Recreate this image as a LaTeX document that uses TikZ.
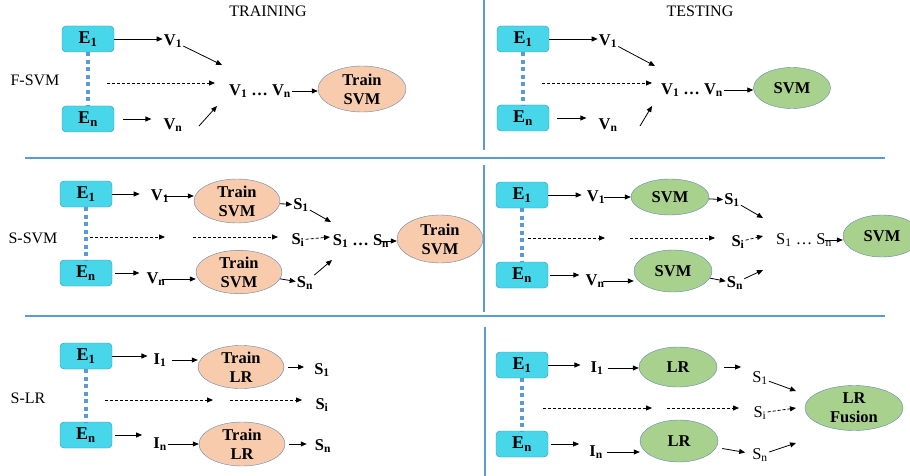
\documentclass[tikz,border=0pt]{standalone}
\usepackage{fontspec}
\setmainfont{Liberation Serif}
\usepackage{xcolor}
\usepackage{tikz}
\usetikzlibrary{shapes,arrows.meta,positioning,calc}

\definecolor{embcyan}{RGB}{72,214,234}
\definecolor{embline}{RGB}{49,146,176}
\definecolor{trainfill}{RGB}{248,203,173}
\definecolor{testfill}{RGB}{169,209,142}
\definecolor{ellline}{RGB}{98,135,175}
\definecolor{panelrule}{RGB}{91,155,213}

\begin{document}
\begin{tikzpicture}[x=1pt, y=-1pt,
    emb/.style={rectangle, draw=embline, fill=embcyan, rounded corners=4pt, minimum width=52pt, minimum height=26pt, inner sep=0pt, font=\fontsize{18}{20}\selectfont\bfseries},
    train/.style={ellipse, draw=ellline, fill=trainfill, minimum width=86pt, minimum height=44pt, inner sep=0pt, align=center, font=\fontsize{16.5}{19}\selectfont\bfseries},
    test/.style={ellipse, draw=ellline, fill=testfill, minimum width=78pt, minimum height=40pt, inner sep=0pt, align=center, font=\fontsize{16.5}{19}\selectfont\bfseries},
    term/.style={inner sep=1pt, font=\fontsize{16.5}{19}\selectfont\bfseries},
    thinterm/.style={inner sep=1pt, font=\fontsize{16.5}{19}\selectfont},
    heading/.style={font=\fontsize{16}{19}\selectfont},
    arrow/.style={-{Triangle[length=6pt, width=5pt]}, line width=0.8pt},
    flow/.style={arrow, dash pattern=on 3pt off 2pt},
    link/.style={draw=panelrule, line width=3.5pt, dash pattern=on 4pt off 3.5pt},
    divider/.style={draw=panelrule, line width=1.6pt}
]
\useasboundingbox (0,0) rectangle (910,476);

% Panel lines
\draw[divider] (484,0) -- (484,150);
\draw[divider] (484,165) -- (484,312);
\draw[divider] (485,327) -- (485,476);
\draw[divider] (25,158) -- (885,158);
\draw[divider] (25,316) -- (885,316);

% Headings
\node[heading] (training) at (268,11) {TRAINING};
\node[heading] (testing) at (700,11) {TESTING};
\node[heading] (fsvm) at (35,80) {F-SVM};
\node[heading] (ssvm) at (33,238) {S-SVM};
\node[heading] (slr) at (28,398) {S-LR};

% F-SVM, training
\node[emb] (ae1) at (88,39) {E\textsubscript{1}};
\node[emb] (aen) at (88,119) {E\textsubscript{n}};
\node[term] (av1) at (173,41) {V\textsubscript{1}};
\node[term] (avn) at (173,125) {V\textsubscript{n}};
\node[term] (avall) at (260,91) {V\textsubscript{1} \dots\ V\textsubscript{n}};
\node[train, minimum width=88pt, minimum height=46pt] (asvm) at (362,89) {Train\\SVM};
\coordinate (aup) at (222,65);
\coordinate (avnout) at (199,126);
\coordinate (adown) at (217,106);
\coordinate (adash1) at (107,83);
\coordinate (adash2) at (215,83);
\draw[link] (ae1) -- (aen);
\draw[arrow] (ae1) -- (ae1 -| av1.west);
\draw[arrow] (av1) -- (aup);
\draw[flow] (adash1) -- (adash2);
\draw[arrow, shorten <=9pt, shorten >=11pt] (aen) -- (aen -| avn.west);
\draw[arrow] (avnout) -- (adown);
\draw[arrow] (avall) -- (avall -| asvm.west);

% F-SVM, testing
\node[emb] (be1) at (523,39) {E\textsubscript{1}};
\node[emb] (ben) at (523,118) {E\textsubscript{n}};
\node[term] (bv1) at (608,41) {V\textsubscript{1}};
\node[term] (bvn) at (608,125) {V\textsubscript{n}};
\node[term] (bvall) at (692,90) {V\textsubscript{1} \dots\ V\textsubscript{n}};
\node[test, minimum width=77pt, minimum height=41pt] (bsvm) at (792,88) {SVM};
\coordinate (bup) at (655,66);
\coordinate (bvnout) at (640,126);
\coordinate (bdown) at (652,106);
\coordinate (bdash1) at (542,83);
\coordinate (bdash2) at (652,83);
\draw[link] (be1) -- (ben);
\draw[arrow] (be1) -- (be1 -| bv1.west);
\draw[arrow] (bv1) -- (bup);
\draw[flow] (bdash1) -- (bdash2);
\draw[arrow, shorten <=8pt, shorten >=11pt] (ben) -- (ben -| bvn.west);
\draw[arrow] (bvnout) -- (bdown);
\draw[arrow] (bvall) -- (bvall -| bsvm.west);

% S-SVM, training
\node[emb] (ce1) at (86,194) {E\textsubscript{1}};
\node[emb] (cen) at (86,273) {E\textsubscript{n}};
\node[term] (cv1) at (160,196) {V\textsubscript{1}};
\node[term] (cvn) at (156,279) {V\textsubscript{n}};
\node[train] (ctop) at (237,201) {Train\\SVM};
\node[train, minimum height=42pt] (cbot) at (239,272) {Train\\SVM};
\node[term] (cs1) at (301,205) {S\textsubscript{1}};
\node[term] (csi) at (298,240) {S\textsubscript{i}};
\node[term] (csn) at (305,283) {S\textsubscript{n}};
\node[term] (call) at (361,241) {S\textsubscript{1} \dots\ S\textsubscript{n}};
\node[train, minimum height=48pt] (cfin) at (440,239) {Train\\SVM};
\coordinate (cup) at (331,222);
\coordinate (cmid) at (330,237);
\coordinate (cdown) at (332,260);
\coordinate (cdash1) at (90,237);
\coordinate (cdash2) at (165,237);
\coordinate (cdash3) at (193,237);
\coordinate (cdash4) at (278,237);
\draw[link] (ce1) -- (cen);
\draw[arrow, shorten >=10pt] (ce1) -- (ce1 -| cv1.west);
\draw[arrow, shorten <=-6pt] (cv1) -- (cv1 -| ctop.west);
\draw[arrow] (ctop) -- (cs1);
\draw[arrow] (cs1) -- (cup);
\draw[flow] (cdash1) -- (cdash2);
\draw[flow] (cdash3) -- (cdash4);
\draw[flow] (csi) -- (cmid);
\draw[arrow, shorten <=-9pt] (call) -- (call -| cfin.west);
\draw[arrow, shorten <=3pt, shorten >=6pt] (cen) -- (cen -| cvn.west);
\draw[arrow, shorten <=-5pt] (cvn) -- (cvn -| cbot.west);
\draw[arrow] (cbot) -- (csn);
\draw[arrow] (csn) -- (cdown);

% S-SVM, testing
\node[emb] (de1) at (522,195) {E\textsubscript{1}};
\node[emb] (den) at (522,275) {E\textsubscript{n}};
\node[term] (dv1) at (596,197) {V\textsubscript{1}};
\node[term] (dvn) at (595,281) {V\textsubscript{n}};
\node[test, minimum height=36pt] (dtop) at (670,197) {SVM};
\node[test, minimum height=42pt] (dbot) at (673,271) {SVM};
\node[term] (ds1) at (732,200) {S\textsubscript{1}};
\node[term] (dsi) at (738,242) {S\textsubscript{i}};
\node[term] (dsn) at (735,283) {S\textsubscript{n}};
\node[thinterm] (dall) at (804,240) {S\textsubscript{1} \dots\ S\textsubscript{n}};
\node[test, minimum height=42pt] (dfin) at (882,236) {SVM};
\coordinate (dup) at (763,218);
\coordinate (dmid) at (763,236);
\coordinate (ddown) at (763,270);
\coordinate (ddash1) at (528,238);
\coordinate (ddash2) at (605,238);
\coordinate (ddash3) at (630,238);
\coordinate (ddash4) at (715,238);
\draw[link] (de1) -- (den);
\draw[arrow, shorten >=4pt] (de1) -- (de1 -| dv1.west);
\draw[arrow, shorten <=-2pt] (dv1) -- (dv1 -| dtop.west);
\draw[arrow] (dtop) -- (ds1);
\draw[arrow] (ds1) -- (dup);
\draw[flow] (ddash1) -- (ddash2);
\draw[flow] (ddash3) -- (ddash4);
\draw[flow] (dsi) -- (dmid);
\draw[arrow, shorten <=-8pt] (dall) -- (dall -| dfin.west);
\draw[arrow, shorten <=2pt, shorten >=5pt] (den) -- (den -| dvn.west);
\draw[arrow, shorten <=-3pt] (dvn) -- (dvn -| dbot.west);
\draw[arrow] (dbot) -- (dsn);
\draw[arrow] (dsn) -- (ddown);

% S-LR, training
\node[emb] (ee1) at (86,356) {E\textsubscript{1}};
\node[emb] (een) at (86,435) {E\textsubscript{n}};
\node[term] (ei1) at (160,360) {I\textsubscript{1}};
\node[term] (ein) at (160,444) {I\textsubscript{n}};
\node[train, minimum height=41pt] (etop) at (241,367) {Train\\LR};
\node[train] (ebot) at (242,444) {Train\\LR};
\node[term] (es1) at (322,370) {S\textsubscript{1}};
\node[term] (esi) at (322,405) {S\textsubscript{i}};
\node[term] (esn) at (323,446) {S\textsubscript{n}};
\coordinate (edash1) at (105,400);
\coordinate (edash2) at (213,400);
\coordinate (edash3) at (230,400);
\coordinate (edash4) at (302,400);
\draw[link] (ee1) -- (een);
\draw[arrow, shorten >=5pt] (ee1) -- (ee1 -| ei1.west);
\draw[arrow, shorten <=4pt] (ei1) -- (ei1 -| etop.west);
\draw[arrow, shorten <=4pt, shorten >=9pt] (etop) -- (etop -| es1.west);
\draw[flow] (edash1) -- (edash2);
\draw[flow] (edash3) -- (edash4);
\draw[arrow, shorten <=3pt, shorten >=10pt] (een) -- (een -| ein.west);
\draw[arrow] (ein) -- (ein -| ebot.west);
\draw[arrow, shorten <=4pt, shorten >=7pt] (ebot) -- (ebot -| esn.west);

% S-LR, testing
\node[emb] (fe1) at (522,365) {E\textsubscript{1}};
\node[emb] (fen) at (522,444) {E\textsubscript{n}};
\node[term] (fi1) at (597,368) {I\textsubscript{1}};
\node[term] (fin) at (596,452) {I\textsubscript{n}};
\node[test] (ftop) at (678,367) {LR};
\node[test, minimum height=42pt] (fbot) at (679,441) {LR};
\node[thinterm] (fs1) at (760,378) {S\textsubscript{1}};
\node[thinterm] (fsi) at (760,413) {S\textsubscript{i}};
\node[thinterm] (fsn) at (760,455) {S\textsubscript{n}};
\node[test, minimum width=98pt, minimum height=45pt] (ffus) at (854,408) {LR\\Fusion};
\coordinate (fto1) at (796,391);
\coordinate (ftoi) at (796,408);
\coordinate (fton) at (796,443);
\coordinate (fdash1) at (543,408);
\coordinate (fdash2) at (652,408);
\coordinate (fdash3) at (667,408);
\coordinate (fdash4) at (739,408);
\draw[link] (fe1) -- (fen);
\draw[arrow, shorten >=9pt] (fe1) -- (fe1 -| fi1.west);
\draw[arrow, shorten <=3pt] (fi1) -- (fi1 -| ftop.west);
\draw[arrow, shorten <=7pt, shorten >=10pt] (ftop) -- (ftop -| fs1.west);
\draw[arrow] (fs1) -- (fto1);
\draw[flow] (fdash1) -- (fdash2);
\draw[flow] (fdash3) -- (fdash4);
\draw[flow] (fsi) -- (ftoi);
\draw[arrow, shorten <=3pt, shorten >=9pt] (fen) -- (fen -| fin.west);
\draw[arrow, shorten <=3pt] (fin) -- (fin -| fbot.west);
\draw[arrow, shorten <=6pt, shorten >=6pt] (fbot) -- (fsn);
\draw[arrow] (fsn) -- (fton);

\end{tikzpicture}
\end{document}
